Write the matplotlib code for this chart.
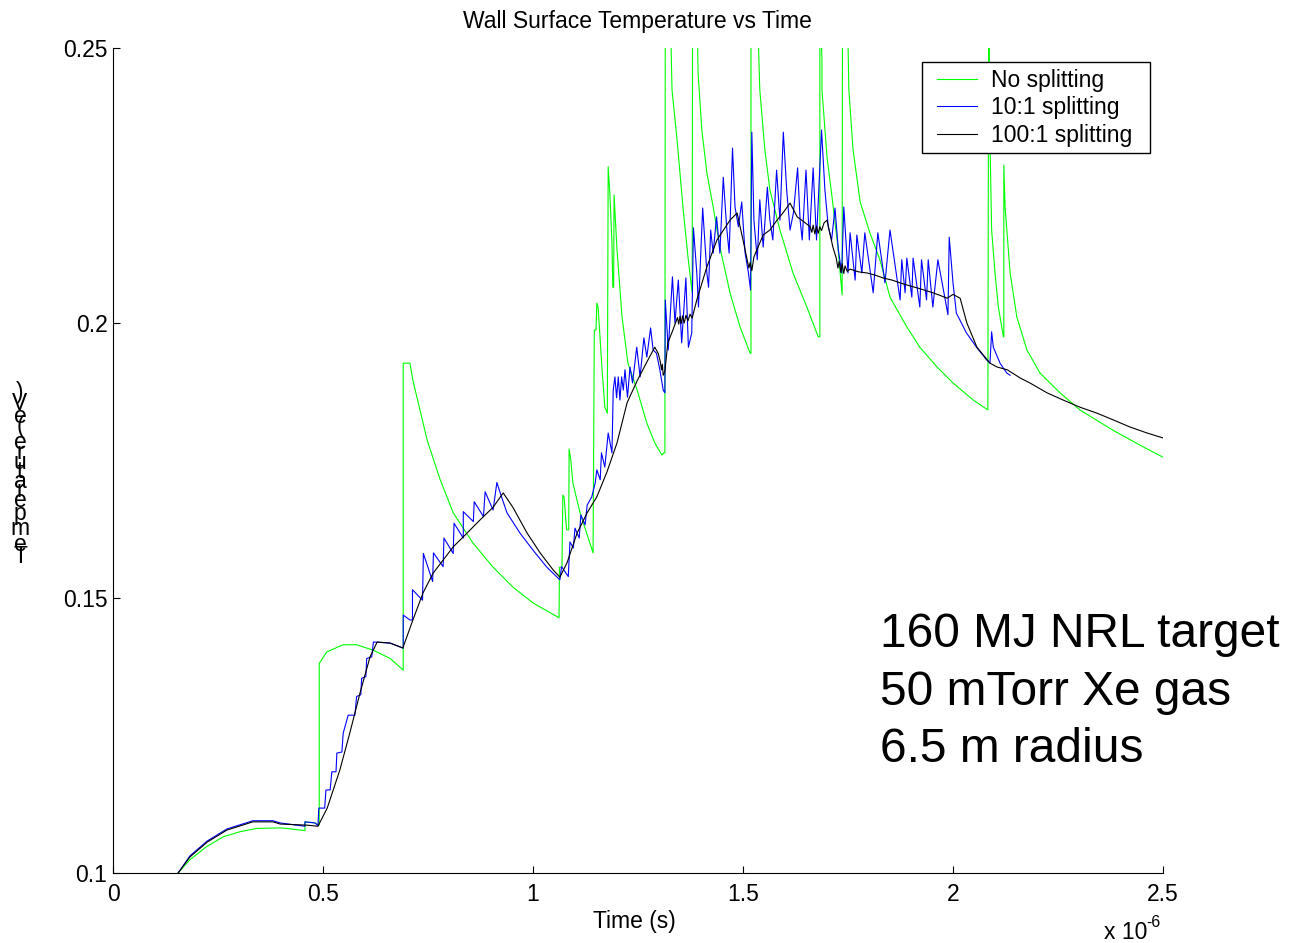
import numpy as np
import matplotlib
matplotlib.use("Agg")
import matplotlib.pyplot as plt
from matplotlib.ticker import FuncFormatter
from matplotlib.patches import Rectangle

plt.rcParams['font.family'] = ['Liberation Sans', 'DejaVu Sans']

# ---------------- data (time in microseconds, temperature in eV) ----------------
green_t = [0.155, 0.183, 0.223, 0.263, 0.302, 0.342, 0.398, 0.414, 0.457, 0.457, 0.481, 0.491,
           0.491, 0.509, 0.548, 0.580, 0.620, 0.660, 0.691,
           0.691, 0.707, 0.714, 0.748, 0.779, 0.810, 0.857, 0.905, 0.952, 1.000, 1.062,
           1.063, 1.069, 1.071, 1.074, 1.080, 1.085, 1.086, 1.090, 1.095, 1.112, 1.129, 1.143,
           1.146, 1.150, 1.152, 1.155, 1.164, 1.171, 1.177,
           1.179, 1.183, 1.188, 1.190, 1.192, 1.193, 1.200, 1.212, 1.226, 1.248, 1.271, 1.290,
           1.307, 1.312, 1.314,
           1.315, 1.326, 1.331, 1.343, 1.357, 1.369, 1.379,
           1.380, 1.390, 1.393, 1.402, 1.414, 1.429, 1.445, 1.469, 1.493, 1.517, 1.519,
           1.519, 1.533, 1.540, 1.552, 1.564, 1.588, 1.619, 1.652, 1.679, 1.683,
           1.683, 1.688, 1.688, 1.700, 1.712, 1.726, 1.736,
           1.737, 1.748, 1.752, 1.762, 1.779, 1.802, 1.826, 1.850, 1.890, 1.921, 1.962, 2.000,
           2.048, 2.083,
           2.085, 2.088, 2.092, 2.100, 2.108, 2.120, 2.121,
           2.121, 2.124, 2.136, 2.152, 2.176, 2.207, 2.255, 2.302, 2.381, 2.445, 2.500]
green_T = [0.1000, 0.1024, 0.1048, 0.1066, 0.1075, 0.1081, 0.1082, 0.1081, 0.1077, 0.1093, 0.1091, 0.1087,
           0.1381, 0.1402, 0.1415, 0.1415, 0.1405, 0.1390, 0.1369,
           0.1927, 0.1927, 0.1896, 0.1787, 0.1715, 0.1655, 0.1600, 0.1556, 0.1520, 0.1491, 0.1464,
           0.1556, 0.1556, 0.1687, 0.1684, 0.1624, 0.1624, 0.1771, 0.1751, 0.1709, 0.1655, 0.1615, 0.1582,
           0.1987, 0.1987, 0.2036, 0.2029, 0.1920, 0.1847, 0.1836,
           0.2284, 0.2236, 0.2145, 0.2065, 0.2065, 0.2233, 0.2133, 0.2011, 0.1927, 0.1878, 0.1818, 0.1782,
           0.1760, 0.1764, 0.1764,
           0.2600, 0.2600, 0.2424, 0.2333, 0.2211, 0.2120, 0.2055,
           0.2600, 0.2600, 0.2455, 0.2351, 0.2273, 0.2211, 0.2138, 0.2055, 0.1993, 0.1945, 0.1945,
           0.2600, 0.2600, 0.2424, 0.2315, 0.2242, 0.2169, 0.2091, 0.2029, 0.1975, 0.1975,
           0.2600, 0.2478, 0.2424, 0.2302, 0.2229, 0.2138, 0.2051,
           0.2600, 0.2600, 0.2424, 0.2315, 0.2220, 0.2164, 0.2115, 0.2047, 0.1993, 0.1956, 0.1920, 0.1891,
           0.1860, 0.1842,
           0.2600, 0.2333, 0.2169, 0.2091, 0.2029, 0.1975, 0.1975,
           0.2287, 0.2211, 0.2091, 0.2011, 0.1951, 0.1909, 0.1873, 0.1842, 0.1805, 0.1778, 0.1756]

blue_t = [0.155, 0.183, 0.224, 0.271, 0.333, 0.381, 0.398, 0.457, 0.457, 0.481, 0.488,
          0.490, 0.504, 0.507, 0.517, 0.521, 0.531, 0.533, 0.545, 0.548, 0.560, 0.576, 0.580,
          0.590, 0.592, 0.602, 0.604, 0.616, 0.620, 0.660, 0.691,
          0.691, 0.707, 0.713, 0.713, 0.737, 0.739, 0.761, 0.763, 0.786, 0.788, 0.810, 0.812,
          0.834, 0.834, 0.858, 0.860, 0.882, 0.886, 0.905, 0.914, 0.925,
          0.938, 0.969, 1.000, 1.033, 1.064,
          1.068, 1.084, 1.088, 1.096, 1.100, 1.110, 1.114, 1.124, 1.129, 1.140, 1.148, 1.152,
          1.160, 1.163, 1.171, 1.179, 1.188, 1.191, 1.195, 1.199, 1.203, 1.207, 1.211, 1.215,
          1.219, 1.225, 1.231, 1.237, 1.247, 1.255, 1.264, 1.271, 1.280, 1.286, 1.294, 1.302,
          1.310, 1.314, 1.315, 1.322, 1.332, 1.338, 1.346, 1.354, 1.364, 1.370, 1.378, 1.382,
          1.390, 1.394, 1.404, 1.414, 1.418, 1.423, 1.429, 1.437, 1.445, 1.453, 1.461, 1.467,
          1.475, 1.481, 1.489, 1.497, 1.505, 1.513, 1.518, 1.521, 1.526, 1.534, 1.540, 1.548,
          1.558, 1.564, 1.571, 1.580, 1.588, 1.596, 1.604, 1.612, 1.620, 1.630, 1.636, 1.641,
          1.650, 1.658, 1.667, 1.675, 1.687, 1.695, 1.703, 1.711, 1.719, 1.727, 1.735, 1.740,
          1.750, 1.755, 1.767, 1.771, 1.783, 1.790, 1.810, 1.821, 1.838, 1.850, 1.874, 1.878,
          1.886, 1.890, 1.902, 1.905, 1.921, 1.925, 1.937, 1.941, 1.952, 1.964, 1.988, 1.991,
          2.000, 2.008, 2.032, 2.056, 2.080, 2.088, 2.092, 2.096, 2.112, 2.128, 2.136]
blue_T = [0.1000, 0.1031, 0.1058, 0.1080, 0.1095, 0.1095, 0.1091, 0.1085, 0.1093, 0.1091, 0.1086,
          0.1118, 0.1118, 0.1151, 0.1151, 0.1184, 0.1184, 0.1218, 0.1220, 0.1254, 0.1287, 0.1287, 0.1321,
          0.1324, 0.1354, 0.1357, 0.1390, 0.1393, 0.1420, 0.1418, 0.1409,
          0.1469, 0.1460, 0.1460, 0.1515, 0.1496, 0.1581, 0.1530, 0.1582, 0.1557, 0.1609, 0.1581, 0.1636,
          0.1609, 0.1657, 0.1639, 0.1675, 0.1648, 0.1693, 0.1660, 0.1710, 0.1684,
          0.1655, 0.1618, 0.1587, 0.1556, 0.1533,
          0.1557, 0.1539, 0.1602, 0.1591, 0.1627, 0.1609, 0.1651, 0.1633, 0.1669, 0.1684, 0.1709, 0.1733,
          0.1715, 0.1764, 0.1738, 0.1800, 0.1764, 0.1878, 0.1902, 0.1864, 0.1902, 0.1860, 0.1902, 0.1878,
          0.1915, 0.1865, 0.1920, 0.1891, 0.1956, 0.1902, 0.1973, 0.1938, 0.1991, 0.1951, 0.1945, 0.1915,
          0.1878, 0.1873, 0.2042, 0.1951, 0.2084, 0.2000, 0.2078, 0.1964, 0.2082, 0.1956, 0.1982, 0.2173,
          0.2091, 0.2029, 0.2209, 0.2091, 0.2065, 0.2169, 0.2127, 0.2193, 0.2127, 0.2265, 0.2175, 0.2127,
          0.2318, 0.2211, 0.2175, 0.2220, 0.2127, 0.2091, 0.2060, 0.2347, 0.2187, 0.2115, 0.2224, 0.2138,
          0.2247, 0.2187, 0.2151, 0.2278, 0.2187, 0.2347, 0.2242, 0.2169, 0.2200, 0.2282, 0.2187, 0.2151,
          0.2278, 0.2151, 0.2282, 0.2151, 0.2351, 0.2242, 0.2175, 0.2151, 0.2209, 0.2133, 0.2091, 0.2211,
          0.2091, 0.2164, 0.2078, 0.2160, 0.2091, 0.2164, 0.2055, 0.2164, 0.2073, 0.2169, 0.2042, 0.2115,
          0.2055, 0.2118, 0.2047, 0.2118, 0.2029, 0.2115, 0.2042, 0.2115, 0.2029, 0.2115, 0.2015, 0.2156,
          0.2073, 0.2018, 0.1982, 0.1956, 0.1933, 0.1927, 0.1984, 0.1956, 0.1927, 0.1909, 0.1905]

black_t = [0.155, 0.183, 0.224, 0.271, 0.333, 0.381, 0.398, 0.462, 0.488, 0.510, 0.540, 0.564,
           0.588, 0.612, 0.629, 0.660, 0.690, 0.714, 0.738, 0.762, 0.786, 0.810, 0.843, 0.874,
           0.905, 0.929, 0.952, 0.986, 1.017, 1.048, 1.064, 1.081, 1.105, 1.129, 1.152, 1.176,
           1.200, 1.224, 1.248, 1.271, 1.290, 1.298, 1.303, 1.306, 1.308, 1.310, 1.314, 1.321,
           1.333, 1.340, 1.344, 1.347, 1.350, 1.353, 1.356, 1.360, 1.364, 1.369, 1.374, 1.379,
           1.390, 1.414, 1.438, 1.469, 1.486, 1.500, 1.510, 1.514, 1.517, 1.521, 1.526, 1.533,
           1.548, 1.564, 1.581, 1.595, 1.612, 1.629, 1.645, 1.660, 1.664, 1.667, 1.671, 1.675,
           1.679, 1.683, 1.687, 1.693, 1.700, 1.714, 1.722, 1.726, 1.729, 1.733, 1.736, 1.740,
           1.743, 1.748, 1.755, 1.775, 1.795, 1.815, 1.833, 1.855, 1.874, 1.895, 1.914, 1.935,
           1.952, 1.970, 1.986, 2.000, 2.017, 2.033, 2.057, 2.088, 2.105, 2.129, 2.160, 2.183,
           2.224, 2.262, 2.302, 2.343, 2.381, 2.421, 2.462, 2.500]
black_T = [0.1000, 0.1029, 0.1056, 0.1078, 0.1093, 0.1093, 0.1089, 0.1087, 0.1085, 0.1118, 0.1187, 0.1255,
           0.1327, 0.1393, 0.1420, 0.1418, 0.1409, 0.1460, 0.1509, 0.1545, 0.1569, 0.1593, 0.1618, 0.1642,
           0.1665, 0.1691, 0.1665, 0.1618, 0.1582, 0.1551, 0.1538, 0.1564, 0.1618, 0.1655, 0.1684, 0.1729,
           0.1782, 0.1855, 0.1895, 0.1929, 0.1956, 0.1945, 0.1930, 0.1915, 0.1925, 0.1905, 0.1912, 0.1964,
           0.1987, 0.2002, 0.2010, 0.1998, 0.2012, 0.1999, 0.2013, 0.2000, 0.2014, 0.2004, 0.2016, 0.2009,
           0.2042, 0.2102, 0.2151, 0.2187, 0.2200, 0.2151, 0.2115, 0.2100, 0.2110, 0.2095, 0.2120, 0.2133,
           0.2160, 0.2169, 0.2187, 0.2200, 0.2218, 0.2193, 0.2184, 0.2175, 0.2165, 0.2178, 0.2162, 0.2176,
           0.2163, 0.2175, 0.2168, 0.2182, 0.2187, 0.2138, 0.2118, 0.2100, 0.2112, 0.2092, 0.2108, 0.2090,
           0.2104, 0.2094, 0.2098, 0.2093, 0.2091, 0.2087, 0.2082, 0.2078, 0.2073, 0.2068, 0.2064, 0.2059,
           0.2055, 0.2050, 0.2045, 0.2052, 0.2045, 0.2000, 0.1956, 0.1927, 0.1920, 0.1915, 0.1900, 0.1891,
           0.1873, 0.1860, 0.1847, 0.1836, 0.1824, 0.1811, 0.1800, 0.1791]

series_labels = ['No splitting', '10:1 splitting', '100:1 splitting']
xtick_values_us = [0, 0.5, 1, 1.5, 2, 2.5]
ytick_values = [0.1, 0.15, 0.2, 0.25]
ytick_labels = ['0.1', '0.15', '0.2', '0.25']
title_text = 'Wall Surface Temperature vs Time'
xlabel_text = 'Time (s)'
ylabel_text = 'Temperature (eV)'
note_lines = ['160 MJ NRL target', '50 mTorr Xe gas', '6.5 m radius']

# ---------------- figure ----------------
W, H = 1289, 943
fig = plt.figure(figsize=(W / 100, H / 100), dpi=100)
ax = fig.add_axes([113 / W, 1 - 873 / H, 1050 / W, 825 / H])

FS = 16.5
lw = 0.8
ax.plot(np.array(green_t) * 1e-6, green_T, color=(0, 1, 0), lw=lw, label=series_labels[0])
ax.plot(np.array(blue_t) * 1e-6, blue_T, color=(0, 0, 1), lw=lw, label=series_labels[1])
ax.plot(np.array(black_t) * 1e-6, black_T, color='black', lw=lw, label=series_labels[2])

ax.set_xlim(0, 2.5e-6)
ax.set_ylim(0.1, 0.25)
ax.set_xticks(np.array(xtick_values_us) * 1e-6)
ax.xaxis.set_major_formatter(FuncFormatter(lambda v, p: '%g' % round(v * 1e6, 6)))
ax.set_yticks(ytick_values)
ax.set_yticklabels(ytick_labels)
for s in ['top', 'right']:
    ax.spines[s].set_visible(False)
for s in ['left', 'bottom']:
    ax.spines[s].set_linewidth(0.8)
ax.tick_params(direction='in', length=5, width=0.8, labelsize=FS)
ax.tick_params(axis='x', pad=7)
ax.tick_params(axis='y', pad=4)

# legend: contents without frame, frame drawn as a separate box
leg = ax.legend(loc='upper left', bbox_to_anchor=((930 - 113) / 1050, (873 - 62) / 825),
                borderaxespad=0, fontsize=FS, frameon=False,
                handlelength=1.75, handletextpad=0.6,
                labelspacing=0.2, borderpad=0.3)
leg.set_zorder(6)
box = Rectangle((922 / W, 1 - 153 / H), (1150 - 922) / W, (153 - 62) / H,
                transform=fig.transFigure, facecolor='white', edgecolor='black',
                linewidth=1.0, zorder=5, clip_on=False)
ax.add_artist(box)

# title and labels
fig.text(637 / W, 1 - 28 / H, title_text, ha='center', va='baseline', fontsize=FS)
fig.text(634 / W, 1 - 928 / H, xlabel_text, ha='center', va='baseline', fontsize=FS)
fig.text(1104 / W, 1 - 939 / H, 'x 10', ha='left', va='baseline', fontsize=FS)
fig.text(1146 / W, 1 - 927 / H, '-6', ha='left', va='baseline', fontsize=FS * 0.7)

# y label drawn as upright characters stacked bottom-to-top (as in the reference)
adv = {'T': .611, 'e': .556, 'm': .833, 'p': .556, 'r': .333, 'a': .556, 't': .278,
       'u': .556, ' ': .278, '(': .333, 'V': .667, ')': .333}
pxem = 22.2
cum = 0.0
for ch in ylabel_text:
    w = adv.get(ch, .5)
    cy = 557 - (cum + w / 2 - 0.305) * pxem
    if ch != ' ':
        fig.text(20 / W, 1 - cy / H, ch, ha='center', va='center', fontsize=FS)
    cum += w

# annotation
baselines = [647, 705, 762]
for line, b in zip(note_lines, baselines):
    fig.text(880 / W, 1 - b / H, line, ha='left', va='baseline', fontsize=34.5)

fig.savefig('out.png', dpi=100)
